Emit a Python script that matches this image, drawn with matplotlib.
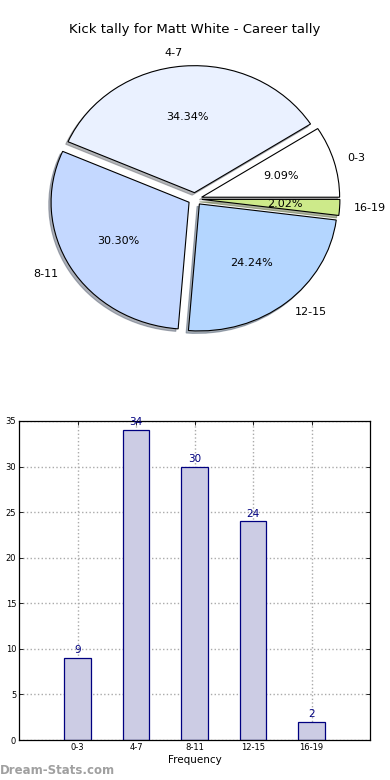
import matplotlib
matplotlib.use("Agg")
import matplotlib.pyplot as plt

categories = ["0-3", "4-7", "8-11", "12-15", "16-19"]
values = [9, 34, 30, 24, 2]
pie_colors = ["#FFFFFF", "#EAF1FF", "#C4D8FF", "#B4D6FF", "#CDEA8A"]
explode = [0.05, 0.05, 0.05, 0.05, 0.05]
yticks = [0, 5, 10, 15, 20, 25, 30, 35]

fig = plt.figure(figsize=(3.9, 7.8), dpi=100)
W, H = 390, 780

# Pie axes (slightly elliptical like the reference)
sx, sy = 138.0, 127.0
ax_top, ax_bot = 42, 354
cy = 199
cx = 195
ax1 = fig.add_axes([0, 1 - ax_bot / H, 1, (ax_bot - ax_top) / H])
wedges, texts, autotexts = ax1.pie(values, labels=categories, colors=pie_colors,
                                   explode=explode,
                                   shadow={"ox": -0.012, "oy": -0.014, "shade": 0.55},
                                   autopct="%1.2f%%",
                                   startangle=0, counterclock=True,
                                   wedgeprops=dict(edgecolor="black", linewidth=0.8),
                                   textprops=dict(fontsize=8))
ax1.set_aspect("auto")
ax1.set_xlim(-cx / sx, (W - cx) / sx)
ax1.set_ylim(-(ax_bot - cy) / sy, (cy - ax_top) / sy)
ax1.axis("off")
fig.text(0.5, 1 - 30 / H, "Kick tally for Matt White - Career tally",
         ha="center", va="center", fontsize=9.5)

# Bar axes
l, r, t, b = 19, 370, 421, 740
ax2 = fig.add_axes([l / W, 1 - b / H, (r - l) / W, (b - t) / H])
x = list(range(len(categories)))
bars = ax2.bar(x, values, width=0.45, color="#CCCCE4", edgecolor="#000080", linewidth=0.9, zorder=2)
for xi, v in zip(x, values):
    ax2.text(xi, v + 0.3, str(v), ha="center", va="bottom", color="#000080", fontsize=7.5)
ax2.set_xlim(-1, 5)
ax2.set_ylim(0, 35)
ax2.set_xticks(x)
ax2.set_xticklabels(categories)
ax2.set_yticks(yticks)
ax2.tick_params(axis="both", labelsize=6, direction="in", length=3, top=True, right=True,
                pad=2, width=0.6)
ax2.grid(True, linestyle=":", color="#AAAAAA", linewidth=1.0, zorder=0)
ax2.set_axisbelow(True)
ax2.set_xlabel("Frequency", fontsize=7.5, labelpad=2.5)
ax2.set_ylabel("Kick Tally", fontsize=7.5, labelpad=7)
for s in ax2.spines.values():
    s.set_linewidth(0.9)

fig.text(0, 1 - 771 / H, "Dream-Stats.com", ha="left", va="center",
         fontsize=8.5, color="#A0A0A0", fontweight="bold")

fig.savefig("out.png", dpi=100)
